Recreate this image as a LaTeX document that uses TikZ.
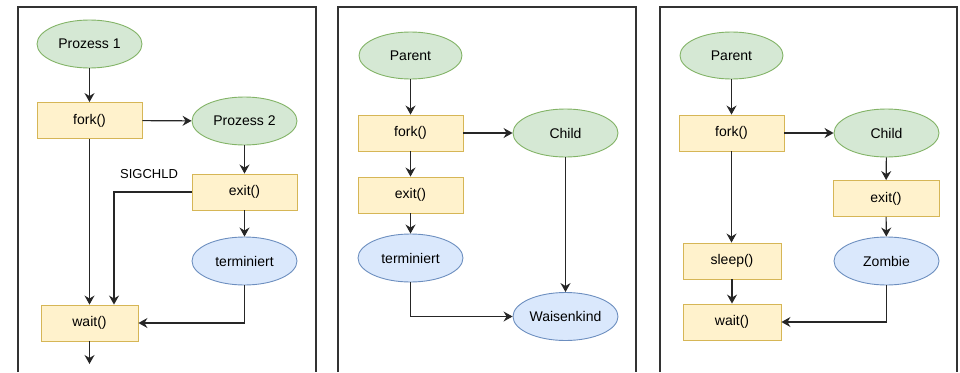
\documentclass[tikz,border=0pt]{standalone}
\usepackage{fontspec}
\setmainfont{Liberation Sans}
\usetikzlibrary{shapes.geometric,arrows.meta}
\definecolor{greenfill}{HTML}{D5E8D4}
\definecolor{greenline}{HTML}{82B366}
\definecolor{yellowfill}{HTML}{FFF2CC}
\definecolor{yellowline}{HTML}{D6B656}
\definecolor{bluefill}{HTML}{DAE8FC}
\definecolor{blueline}{HTML}{6C8EBF}
\definecolor{framegray}{HTML}{333333}
\begin{document}
\begin{tikzpicture}[x=1pt,y=-1pt,
        proc/.style={ellipse,draw=greenline,fill=greenfill,line width=0.9pt,minimum width=105pt,minimum height=48pt,inner sep=0pt,font=\fontsize{14}{16}\selectfont},
        dead/.style={ellipse,draw=blueline,fill=bluefill,line width=0.9pt,minimum width=105pt,minimum height=48pt,inner sep=0pt,font=\fontsize{14}{16}\selectfont},
        call/.style={rectangle,draw=yellowline,fill=yellowfill,line width=0.9pt,minimum width=105pt,minimum height=36pt,inner sep=0pt,font=\fontsize{14}{16}\selectfont},
        flow/.style={-{Stealth[length=9pt,width=10pt,inset=3pt]},line width=1.1pt,draw=black!85},
        frame/.style={line width=1.2pt,draw=framegray}]
            \useasboundingbox (0,0) rectangle (960,372);

            % Rahmen
            \draw[frame] (18,372) -- (18,7) -- (316,7) -- (316,372);
            \draw[frame] (338,372) -- (338,7) -- (636,7) -- (636,372);
            \draw[frame] (660,372) -- (660,7) -- (957,7) -- (957,372);

            % fork, exit, wait
            \node[proc] at (89.5, 44) (p1) {Prozess 1};
            \node[call] at (89.5, 120.5) (fork1) {fork()};
            \node[proc] at (244.5, 121) (p2) {Prozess 2};
            \node[call] at (244.5, 192) (exit1) {exit()};
            \node[dead] at (244.5, 261) (term1) {terminiert};
            \node[call, minimum width=97pt] at (89.5, 323) (wait1) {wait()};
            \node[font=\fontsize{13}{15}\selectfont] at (149, 174) (sig) {SIGCHLD};
            \coordinate (out1) at (89.5, 364);

            \draw[flow](p1) -- (fork1);
            \draw[flow](fork1) -- (p2);
            \draw[flow](p2) -- (exit1);
            \draw[flow](exit1) -- (term1);
            \draw[flow](fork1) -- (wait1);
            \draw[flow](exit1.west) -| ([xshift=24.5pt]wait1.north);
            \draw[flow](term1.south) |- (wait1.east);
            \draw[flow](wait1) -- (out1);

            % Waisenkind
            \node[proc, minimum width=103pt, minimum height=47pt] at (410.5, 55.5) (parent2) {Parent};
            \node[call] at (410.5, 133) (fork2) {fork()};
            \node[proc] at (565.5, 133) (child2) {Child};
            \node[call] at (410.5, 195) (exit2) {exit()};
            \node[dead] at (410.5, 258) (term2) {terminiert};
            \node[dead] at (565.5, 316.5) (orphan) {Waisenkind};

            \draw[flow](parent2) -- (fork2);
            \draw[flow](fork2) -- (child2);
            \draw[flow](fork2) -- (exit2);
            \draw[flow](exit2) -- (term2);
            \draw[flow](child2) -- (orphan);
            \draw[flow](term2.south) |- (orphan.west);

            % Zombie
            \node[proc, minimum width=103pt, minimum height=47pt] at (731.5, 55.5) (parent3) {Parent};
            \node[call] at (731.5, 133) (fork3) {fork()};
            \node[proc] at (886.5, 133) (child3) {Child};
            \node[call, minimum width=106pt] at (886, 198.5) (exit3) {exit()};
            \node[dead] at (886.5, 261) (zombie) {Zombie};
            \node[call, minimum width=98pt] at (732, 261) (sleep3) {sleep()};
            \node[call, minimum width=98pt] at (732, 322) (wait3) {wait()};

            \draw[flow](parent3) -- (fork3);
            \draw[flow](fork3) -- (child3);
            \draw[flow](child3) -- (exit3);
            \draw[flow](exit3) -- (zombie);
            \draw[flow](fork3.south) -- (sleep3.north -| fork3.south);
            \draw[flow](sleep3) -- (wait3);
            \draw[flow](zombie.south) |- (wait3.east);
\end{tikzpicture}
\end{document}
